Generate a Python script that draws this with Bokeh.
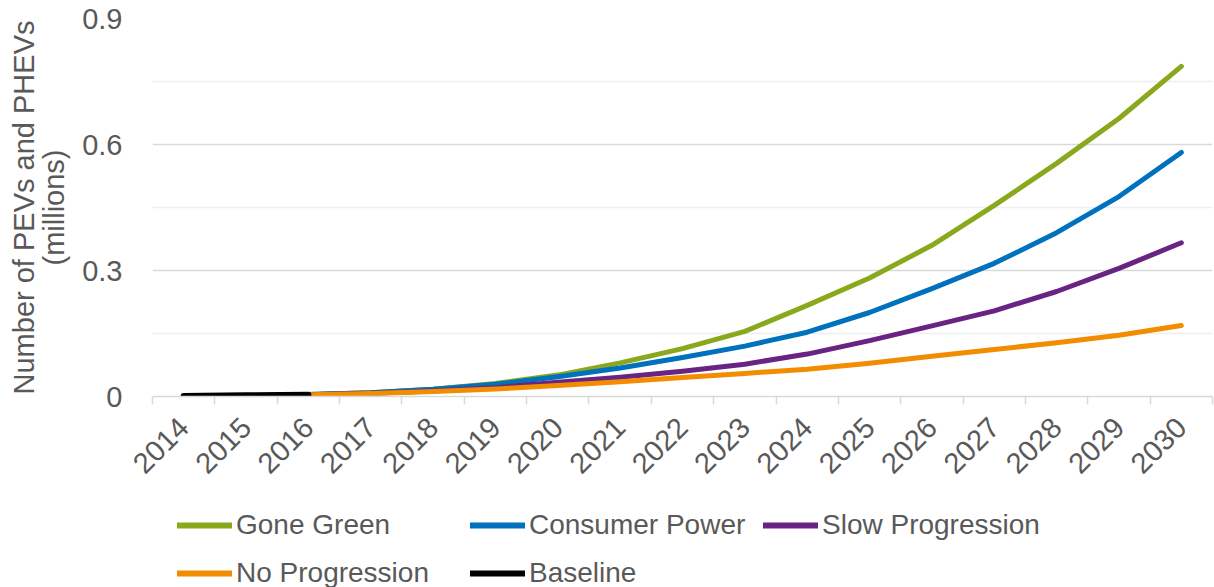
import math
from bokeh.plotting import figure
from bokeh.layouts import column
from bokeh.models import Range1d, FixedTicker, Legend, LegendItem
from bokeh.embed import file_html
from bokeh.resources import INLINE

# ---------------- data ----------------
years = [str(y) for y in range(2014, 2031)]
baseline_years = years[:3]
baseline = [0.001, 0.003, 0.004]
scenario_years = years[2:]
gone_green = [0.005, 0.009, 0.017, 0.031, 0.051, 0.080, 0.114, 0.155, 0.217,
              0.282, 0.360, 0.455, 0.555, 0.662, 0.786]
consumer_power = [0.005, 0.009, 0.017, 0.029, 0.047, 0.068, 0.093, 0.120, 0.153,
                  0.200, 0.257, 0.317, 0.390, 0.476, 0.581]
slow_progression = [0.004, 0.008, 0.013, 0.021, 0.034, 0.046, 0.060, 0.077, 0.101,
                    0.133, 0.168, 0.204, 0.250, 0.305, 0.366]
no_progression = [0.004, 0.007, 0.012, 0.018, 0.026, 0.035, 0.045, 0.055, 0.065,
                  0.079, 0.096, 0.112, 0.128, 0.146, 0.169]
series_names = ["Gone Green", "Consumer Power", "Slow Progression",
                "No Progression", "Baseline"]
series_colors = ["#8AA81C", "#0071BC", "#682383", "#F28C00", "#000000"]
y_ticks = [0, 0.3, 0.6, 0.9]
y_tick_labels = ["0", "0.3", "0.6", "0.9"]
y_minor = [0.15, 0.45, 0.75]
y_title = "Number of PEVs and PHEVs\n(millions)"

FONT = "Liberation Sans"
TXT = "#595959"
FS = "29px"

# category slots: each year occupies one unit, centred at index + 0.5
slot = {y: i + 0.5 for i, y in enumerate(years)}
centers = [slot[y] for y in years]
bounds = list(range(len(years) + 1))

p = figure(width=1214, height=500, x_range=Range1d(0, len(years)),
           y_range=Range1d(0, 0.9), output_backend="svg", toolbar_location=None,
           min_border_left=152, min_border_right=2,
           min_border_top=18, min_border_bottom=104)
p.outline_line_color = None
p.xgrid.visible = False

# y axis
ya = p.yaxis[0]
ya.ticker = FixedTicker(ticks=y_ticks, minor_ticks=y_minor)
ya.major_label_overrides = {t: l for t, l in zip(y_ticks, y_tick_labels)}
ya.axis_line_color = None
ya.major_tick_line_color = None
ya.minor_tick_line_color = None
ya.major_label_text_font = FONT
ya.major_label_text_font_size = FS
ya.major_label_text_color = TXT
ya.major_label_standoff = 24
ya.axis_label = y_title
ya.axis_label_text_font = FONT
ya.axis_label_text_font_size = FS
ya.axis_label_text_font_style = "normal"
ya.axis_label_text_color = TXT
ya.axis_label_text_line_height = 0.95
ya.axis_label_standoff = 9
p.ygrid.grid_line_color = "#d9d9d9"
p.ygrid.grid_line_width = 1.5
p.ygrid.minor_grid_line_color = "#eeeeee"
p.ygrid.minor_grid_line_width = 1.5

# x axis: labels at slot centres, ticks at slot boundaries
xa = p.xaxis[0]
xa.ticker = FixedTicker(ticks=centers, minor_ticks=bounds)
xa.major_label_overrides = {slot[y]: y for y in years}
xa.major_tick_in = 0
xa.major_tick_out = 0
xa.minor_tick_in = 0
xa.minor_tick_out = 8
xa.minor_tick_line_color = "#d9d9d9"
xa.minor_tick_line_width = 1.5
xa.axis_line_color = "#d9d9d9"
xa.axis_line_width = 1.5
xa.major_label_orientation = math.pi / 4
xa.major_label_text_font = FONT
xa.major_label_text_font_size = FS
xa.major_label_text_color = TXT
xa.major_label_standoff = 18

kw = dict(line_width=5, line_cap="round", line_join="round")
sx = [slot[y] for y in scenario_years]
bx = [slot[y] for y in baseline_years]
renderers = [
    p.line(sx, gone_green, line_color=series_colors[0], **kw),
    p.line(sx, consumer_power, line_color=series_colors[1], **kw),
    p.line(sx, slow_progression, line_color=series_colors[2], **kw),
    p.line(sx, no_progression, line_color=series_colors[3], **kw),
    p.line(bx, baseline, line_color=series_colors[4], line_width=6,
           line_cap="round", line_join="round"),
]
for r in renderers:
    if hasattr(r, "clip"):
        r.clip = False

# legend panel below the chart (single-point proxy lines only carry the styles)
pl = figure(width=1214, height=87, x_range=Range1d(0, len(years)), y_range=Range1d(0, 0.9),
            output_backend="svg", toolbar_location=None, min_border=0,
            x_axis_location=None, y_axis_location=None)
pl.outline_line_color = None
pl.grid.visible = False
first_points = [(sx[0], gone_green[0]), (sx[0], consumer_power[0]),
                (sx[0], slow_progression[0]), (sx[0], no_progression[0]),
                (bx[0], baseline[0])]
items = []
for name, col, (x0, y0) in zip(series_names, series_colors, first_points):
    r = pl.line([x0], [y0], line_color=col, line_width=6, line_cap="round")
    items.append(LegendItem(label=name, renderers=[r]))
legend = Legend(items=items, orientation="horizontal", nrows=2, location=(25, -10),
                label_text_font=FONT, label_text_font_size="28px", label_text_color=TXT,
                glyph_width=55, glyph_height=48, label_height=48, label_width=234,
                label_standoff=4, spacing=0, padding=0, margin=0,
                border_line_color=None, background_fill_alpha=0)
pl.add_layout(legend)

open("out.html", "w").write(file_html(column(p, pl, spacing=0), INLINE))
